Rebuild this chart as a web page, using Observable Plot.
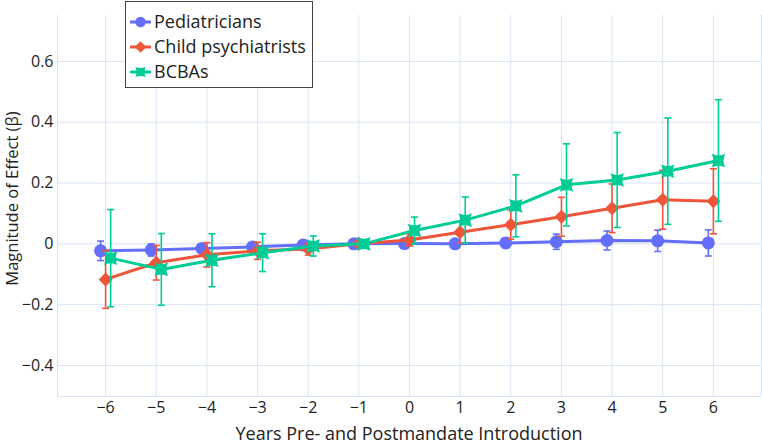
<!DOCTYPE html>
<html>
<head>
<meta charset="utf-8">
<script src="https://cdn.jsdelivr.net/npm/d3@7"></script>
<script src="https://cdn.jsdelivr.net/npm/@observablehq/plot@0.6"></script>
<style>
  html, body { margin: 0; padding: 0; background: #fff; }
  body { font-family: "Open Sans", sans-serif; color: #222; }
  #wrap { position: relative; width: 762px; height: 446px; }
  #legend {
    position: absolute; left: 125px; top: 1px; width: 188px; height: 87px;
    box-sizing: border-box; border: 1px solid #444; background: #fff;
    font-size: 18px; padding-top: 7px;
  }
  .item { display: flex; align-items: center; height: 25px; line-height: 25px; }
  .item svg { margin-left: 4px; margin-right: 3px; }
</style>
</head>
<body>
<div id="wrap"><div id="legend"></div></div>
<script>
// ---- data ----
const years = [-6, -5, -4, -3, -2, -1, 0, 1, 2, 3, 4, 5, 6];
const seriesNames = ["Pediatricians", "Child psychiatrists", "BCBAs"];
const pedBeta  = [-0.023, -0.020, -0.015, -0.010, -0.004, 0.000, 0.001, 0.000, 0.003, 0.007, 0.011, 0.010, 0.003];
const pedErr   = [ 0.032,  0.020,  0.015,  0.012,  0.008, 0.000, 0.008, 0.010, 0.015, 0.025, 0.031, 0.035, 0.043];
const psyBeta  = [-0.117, -0.062, -0.036, -0.023, -0.017, 0.000, 0.013, 0.038, 0.063, 0.089, 0.117, 0.145, 0.140];
const psyErr   = [ 0.095,  0.057,  0.040,  0.028,  0.020, 0.000, 0.020, 0.035, 0.048, 0.064, 0.080, 0.097, 0.107];
const bcbaBeta = [-0.047, -0.084, -0.054, -0.029, -0.007, 0.000, 0.044, 0.078, 0.125, 0.194, 0.210, 0.239, 0.274];
const bcbaErr  = [ 0.160,  0.118,  0.087,  0.062,  0.033, 0.004, 0.044, 0.076, 0.102, 0.135, 0.156, 0.175, 0.200];
const yTicks = [-0.4, -0.2, 0, 0.2, 0.4, 0.6];
const xTitle = "Years Pre- and Postmandate Introduction";
const yTitle = "Magnitude of Effect (β)";

// ---- styling ----
const colors = ["#636efa", "#ef553b", "#00cc96"];
const dodge = [-0.1, 0, 0.1];
const gridColor = "#d9e4f5";
const xDomain = [-6.95, 6.95];
const yDomain = [-0.502, 0.751];

const starSquare = {
  draw(ctx, size) {
    const a = Math.sqrt(size / Math.PI);
    const c = a * 0.5;
    ctx.moveTo(-a, -a);
    ctx.quadraticCurveTo(0, -c, a, -a);
    ctx.quadraticCurveTo(c, 0, a, a);
    ctx.quadraticCurveTo(0, c, -a, a);
    ctx.quadraticCurveTo(-c, 0, -a, -a);
    ctx.closePath();
  }
};
const capSymbol = {
  draw(ctx, size) { ctx.moveTo(-3.5, 0); ctx.lineTo(3.5, 0); }
};
const symbols = ["circle", "diamond2", starSquare];
const radii = [6.5, 6.3, 6.8];

const series = [[pedBeta, pedErr], [psyBeta, psyErr], [bcbaBeta, bcbaErr]];
const rows = series.map(([b, e], i) => years.map((yr, j) => ({
  name: seriesNames[i], x: yr + dodge[i], beta: b[j], lo: b[j] - e[j], hi: b[j] + e[j], err: e[j]
})));

const minus = v => v < 0 ? "\u2212" + Math.abs(v) : String(v);
const fmtY = v => v === 0 ? "0" : (v < 0 ? "\u2212" : "") + Math.abs(v).toFixed(1);

const marks = [
  Plot.gridX(years, {stroke: gridColor, strokeOpacity: 1, strokeWidth: 1}),
  Plot.gridY(yTicks, {stroke: gridColor, strokeOpacity: 1, strokeWidth: 1}),
  Plot.ruleX([xDomain[0], xDomain[1]], {stroke: gridColor, strokeWidth: 1.2}),
  Plot.ruleY([yDomain[0]], {stroke: gridColor, strokeWidth: 1.2}),
];
rows.forEach((d, i) => {
  const withErr = d.filter(r => r.err > 0);
  marks.push(
    Plot.ruleX(withErr, {x: "x", y1: "lo", y2: "hi", stroke: colors[i], strokeWidth: 1.6}),
    Plot.dot(withErr, {x: "x", y: "lo", symbol: capSymbol, stroke: colors[i], fill: "none", strokeWidth: 1.6, r: 3}),
    Plot.dot(withErr, {x: "x", y: "hi", symbol: capSymbol, stroke: colors[i], fill: "none", strokeWidth: 1.6, r: 3}),
    Plot.line(d, {x: "x", y: "beta", stroke: colors[i], strokeWidth: 3}),
    Plot.dot(d, {x: "x", y: "beta", symbol: symbols[i], fill: colors[i], stroke: "none", r: radii[i]})
  );
});

const chart = Plot.plot({
  width: 762, height: 446,
  marginLeft: 57, marginRight: 1, marginTop: 15, marginBottom: 50,
  style: {fontFamily: "Open Sans", fontSize: "16px", color: "#222", background: "#fff"},
  x: {domain: xDomain, ticks: years, tickFormat: minus, tickSize: 0, tickPadding: 5, label: null},
  y: {domain: yDomain, ticks: yTicks, tickFormat: fmtY, tickSize: 0, tickPadding: 4, label: null},
  marks
});
document.getElementById("wrap").prepend(chart);

const svg = d3.select(chart);
svg.append("text")
  .attr("x", 409).attr("y", 439.5).attr("text-anchor", "middle")
  .attr("fill", "#222").style("font-size", "18px").style("font-family", "Open Sans")
  .text(xTitle);
svg.append("text")
  .attr("transform", "translate(18,198.5) rotate(-90)").attr("text-anchor", "middle")
  .attr("fill", "#222").style("font-size", "16.5px").style("font-family", "Open Sans")
  .text(yTitle);

// ---- legend ----
const legend = d3.select("#legend");
seriesNames.forEach((n, i) => {
  const it = legend.append("div").attr("class", "item");
  const s = it.append("svg").attr("width", 21).attr("height", 16);
  s.append("line").attr("x1", 0).attr("x2", 21).attr("y1", 8).attr("y2", 8)
    .attr("stroke", colors[i]).attr("stroke-width", 3);
  const sym = i === 0 ? d3.symbolCircle : i === 1 ? d3.symbolDiamond2 : starSquare;
  s.append("path").attr("transform", "translate(10.5,8)")
    .attr("d", d3.symbol(sym, Math.PI * 5.2 * 5.2)()).attr("fill", colors[i]);
  it.append("span").text(n);
});
</script>
</body>
</html>
